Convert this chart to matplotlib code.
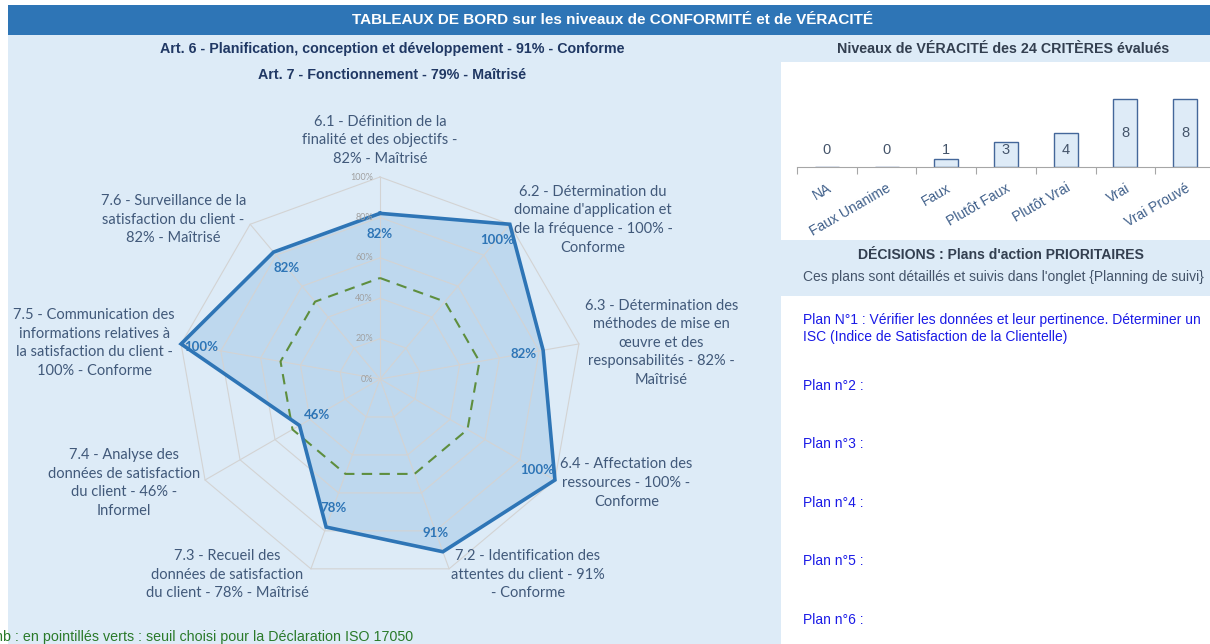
import numpy as np
import matplotlib.pyplot as plt
from matplotlib.patches import Rectangle

# --- données ---
criteres = [
    "6.1 - Définition de la\nfinalité et des objectifs -\n82% - Maîtrisé",
    "6.2 - Détermination du\ndomaine d'application et\nde la fréquence - 100% -\nConforme",
    "6.3 - Détermination des\nméthodes de mise en\nœuvre et des\nresponsabilités - 82% -\nMaîtrisé",
    "6.4 - Affectation des\nressources - 100% -\nConforme",
    "7.2 - Identification des\nattentes du client - 91%\n- Conforme",
    "7.3 - Recueil des\ndonnées de satisfaction\ndu client - 78% - Maîtrisé",
    "7.4 - Analyse des\ndonnées de satisfaction\ndu client - 46% -\nInformel",
    "7.5 - Communication des\ninformations relatives à\nla satisfaction du client -\n100% - Conforme",
    "7.6 - Surveillance de la\nsatisfaction du client -\n82% - Maîtrisé",
]
conformite = [82, 100, 82, 100, 91, 78, 46, 100, 82]
seuil = [50, 50, 50, 50, 50, 50, 50, 50, 50]
graduations = [0, 20, 40, 60, 80, 100]

veracite_cat = ["NA", "Faux Unanime", "Faux", "Plutôt Faux", "Plutôt Vrai", "Vrai", "Vrai Prouvé"]
veracite_nb = [0, 0, 1, 3, 4, 8, 8]

titre = "TABLEAUX DE BORD sur les niveaux de CONFORMITÉ et de VÉRACITÉ"
art6 = "Art. 6 - Planification, conception et développement - 91% - Conforme"
art7 = "Art. 7 - Fonctionnement - 79% - Maîtrisé"
titre_ver = "Niveaux de VÉRACITÉ des 24 CRITÈRES évalués"
titre_dec = "DÉCISIONS : Plans d'action PRIORITAIRES"
sous_dec = "Ces plans sont détaillés et suivis dans l'onglet {Planning de suivi}"
plans = [
    "Plan N°1 : Vérifier les données et leur pertinence. Déterminer un\nISC (Indice de Satisfaction de la Clientelle)",
    "Plan n°2 :", "Plan n°3 :", "Plan n°4 :", "Plan n°5 :", "Plan n°6 :",
]
note = "nb : en pointillés verts : seuil choisi pour la Déclaration ISO 17050"

W, H = 1210, 644
BLEU_FOND = '#DDEBF7'
BLEU = '#2E75B6'
ARIAL = 'Liberation Sans'
CALIBRI = 'Lato'


def fx(x):
    return x / W


def fy(y):
    return 1 - y / H


def rect(x0, y0, x1, y1, color):
    fig.patches.append(Rectangle((fx(x0), fy(y1)), (x1 - x0) / W, (y1 - y0) / H,
                                 transform=fig.transFigure, facecolor=color,
                                 edgecolor='none', zorder=-10))


fig = plt.figure(figsize=(W / 100, H / 100), dpi=100)
fig.patch.set_facecolor('white')

# fonds
rect(8, 5, W, H, BLEU_FOND)
rect(8, 5, W, 35, BLEU)
rect(781, 62, W, 240, 'white')
rect(781, 296, W, H, 'white')

fig.text(fx(613), fy(20), titre, ha='center', va='center', color='white',
         fontsize=11, fontweight='bold', family=ARIAL)
fig.text(fx(392), fy(49), art6, ha='center', va='center', color='#203864',
         fontsize=10.25, fontweight='bold', family=ARIAL)
fig.text(fx(392), fy(75), art7, ha='center', va='center', color='#203864',
         fontsize=10.25, fontweight='bold', family=ARIAL)
fig.text(fx(1003), fy(49), titre_ver, ha='center', va='center', color='#333F50',
         fontsize=10.25, fontweight='bold', family=ARIAL)
fig.text(fx(1001), fy(255), titre_dec, ha='center', va='center', color='#333F50',
         fontsize=10.1, fontweight='bold', family=ARIAL)
fig.text(fx(1003), fy(277), sous_dec, ha='center', va='center', color='#44546A',
         fontsize=10, family=ARIAL)

plan_y = [319, 385, 443, 502, 560, 619]
for txt, py in zip(plans, plan_y):
    fig.text(fx(803), fy(py - 6), txt, ha='left', va='top', color='#1A1AE6',
             fontsize=10, family=ARIAL, linespacing=1.3)

# note de bas de page, coupée à gauche comme dans l'original
fig.text(fx(413), fy(637), note, ha='right', va='center', color='#2A7A2A',
         fontsize=10.25, family=ARIAL)

# --- radar de conformité ---
ax = fig.add_axes([fx(130), fy(629), 500 / W, 500 / H])
lim = 250 / 202
ax.set_xlim(-lim, lim)
ax.set_ylim(-lim, lim)
ax.axis('off')

n = len(criteres)
theta = 2 * np.pi * np.arange(n) / n
sx, sy = np.sin(theta), np.cos(theta)


def ferme(a):
    return np.append(a, a[0])


vals = np.array(conformite) / 100
ax.fill(ferme(vals * sx), ferme(vals * sy), color='#BDD7EE', alpha=0.95, zorder=1, lw=0)

for g in graduations[1:]:
    r = g / 100
    ax.plot(ferme(r * sx), ferme(r * sy), color='#D3D3D3', lw=0.8, zorder=2)
for i in range(n):
    ax.plot([0, sx[i]], [0, sy[i]], color='#D3D3D3', lw=0.8, zorder=2)

s = np.array(seuil) / 100
ax.plot(ferme(s * sx), ferme(s * sy), color='#5E8E3E', lw=1.5, ls=(0, (5, 3.5)), zorder=3)
ax.plot(ferme(vals * sx), ferme(vals * sy), color=BLEU, lw=2.6, zorder=4,
        solid_joinstyle='miter')

for g in graduations:
    ax.text(-0.035, g / 100, f"{g}%", ha='right', va='center', fontsize=6.5,
            color='#A0A0A0', family=CALIBRI, zorder=5)

for i, v in enumerate(vals):
    rr = v - 0.1
    ax.text(rr * sx[i], rr * sy[i], f"{conformite[i]}%", ha='center', va='center',
            fontsize=9.5, fontweight='bold', color=BLEU, family=CALIBRI, zorder=5)

rl = 1.03
for i, lab in enumerate(criteres):
    if sx[i] > 0.1:
        ha = 'left'
    elif sx[i] < -0.1:
        ha = 'right'
    else:
        ha = 'center'
    va = 'bottom' if sy[i] > 0.95 else 'center'
    ax.text(rl * sx[i], rl * sy[i] + (0.025 if va == 'bottom' else 0), lab,
            ha=ha, va=va, multialignment='center',
            fontsize=10.5, color='#41597A', family=CALIBRI, linespacing=1.42)

# --- barres de véracité ---
bx = fig.add_axes([fx(797), fy(167), 418 / W, 105 / H])
bx.patch.set_alpha(0)
xpos = np.arange(len(veracite_cat))
bx.bar(xpos, veracite_nb, width=0.4, color='#DEEBF7', edgecolor='#44679A', lw=1)
bx.set_xlim(-0.5, len(veracite_cat) - 0.5)
bx.set_ylim(0, 105 / 8.5)
for k in ['top', 'right', 'left']:
    bx.spines[k].set_visible(False)
bx.spines['bottom'].set_color('#A6A6A6')
bx.set_yticks([])
bx.set_xticks(xpos)
bx.set_xticklabels(veracite_cat, rotation=30, ha='right', va='top',
                   rotation_mode='anchor', fontsize=10, color='#3F5F8A', family=ARIAL)
bx.tick_params(axis='x', which='major', length=0, pad=10)
bx.set_xticks(np.arange(len(veracite_cat) + 1) - 0.5, minor=True)
bx.tick_params(axis='x', which='minor', length=5, color='#A6A6A6', width=0.8)
for xi, v in zip(xpos, veracite_nb):
    bx.text(xi, max(v / 2, 2), str(v), ha='center', va='center', fontsize=10.5,
            color='#44546A', family=ARIAL)

fig.savefig('out.png', dpi=100)
